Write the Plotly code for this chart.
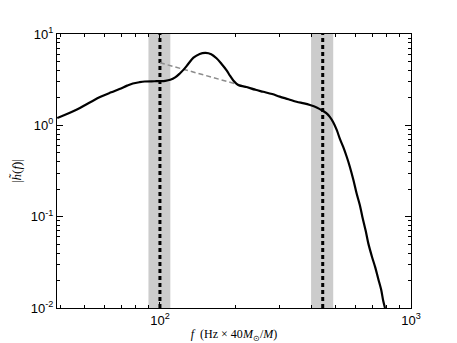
import plotly.graph_objects as go

# spectrum amplitude
freq = [39, 44, 48, 53, 58, 64, 69, 74, 78, 83, 87, 95, 100, 105, 110, 115, 120, 125, 130, 136, 144, 152,
        160, 168, 176, 184, 190, 196, 202, 208, 215, 221, 240, 258, 280, 300, 325, 350, 375, 396,
        421, 445, 460, 475, 490, 506, 520, 537, 555, 571, 590, 607, 625, 640, 660, 676,
        700, 720, 740, 760, 775, 788]
amp = [1.2, 1.38, 1.55, 1.8, 2.05, 2.3, 2.5, 2.72, 2.87, 2.97, 3.02, 3.04, 3.05, 3.07, 3.15, 3.35, 3.7, 4.15, 4.75, 5.5, 6.05, 6.2,
       6.0, 5.42, 4.7, 4.03, 3.5, 3.1, 2.85, 2.72, 2.67, 2.63, 2.45, 2.33, 2.2, 2.06, 1.93, 1.81, 1.74, 1.67,
       1.57, 1.445, 1.36, 1.24, 1.08, 0.89, 0.72, 0.58, 0.45, 0.35, 0.25, 0.18, 0.135, 0.1, 0.07, 0.051,
       0.036, 0.028, 0.021, 0.016, 0.012, 0.01]

# grey dashed extrapolation
ext_f = [100, 250]
ext_h = [4.85, 2.4]

# marked frequencies and their bands
mark_f = [100, 445]
band_lo = [90, 400]
band_hi = [110, 490]

# decade tick labels
xtick_vals = [100, 1000]
xtick_text = ['10<sup>2</sup>', '10<sup>3</sup>']
ytick_vals = [0.01, 0.1, 1, 10]
ytick_text = ['10<sup>-2</sup>', '10<sup>-1</sup>', '10<sup>0</sup>', '10<sup>1</sup>']

fig = go.Figure()

for lo, hi in zip(band_lo, band_hi):
    fig.add_trace(go.Scatter(x=[lo, hi, hi, lo, lo], y=[0.01, 0.01, 10, 10, 0.01],
                             fill='toself', fillcolor='rgb(204,204,204)',
                             line=dict(width=0), mode='lines', hoverinfo='skip'))

for f0 in mark_f:
    fig.add_trace(go.Scatter(x=[f0, f0], y=[0.01, 10], mode='lines',
                             line=dict(color='black', width=3, dash='4px,3px'),
                             hoverinfo='skip'))

fig.add_trace(go.Scatter(x=ext_f, y=ext_h, mode='lines',
                         line=dict(color='rgb(140,140,140)', width=1.5, dash='5px,3px')))

fig.add_trace(go.Scatter(x=freq, y=amp, mode='lines', line=dict(color='black', width=2.2),
                         line_shape='spline'))

axis = dict(type='log', showgrid=False, zeroline=False, showline=True, mirror='ticks',
            linecolor='black', linewidth=1.2, ticks='inside', ticklen=6, tickcolor='black',
            tickmode='array', automargin=False,
            minor=dict(ticks='inside', ticklen=3, tickcolor='black', showgrid=False, dtick='D1'),
            tickfont=dict(family='Liberation Sans', size=13, color='black'))

# the page body adds an 8px offset, so the figure is a little smaller than the window
fig.update_layout(
    width=449, height=335,
    margin=dict(l=49, r=46, t=26, b=35),
    showlegend=False,
    plot_bgcolor='white', paper_bgcolor='white',
    xaxis=dict(axis, range=[1.59, 3], tickvals=xtick_vals, ticktext=xtick_text,
               title=dict(text='<i>f</i>  (Hz × 40<i>M</i><sub>⊙</sub>/<i>M</i>)',
                          font=dict(family='Liberation Serif', size=12, color='black'),
                          standoff=4)),
    yaxis=dict(axis, range=[-2, 1], tickvals=ytick_vals, ticktext=ytick_text,
               title=dict(text='|<i>h̃</i>(<i>f</i>)|',
                          font=dict(family='Liberation Serif', size=13, color='black'),
                          standoff=6)),
)

fig.write_html("out.html")
